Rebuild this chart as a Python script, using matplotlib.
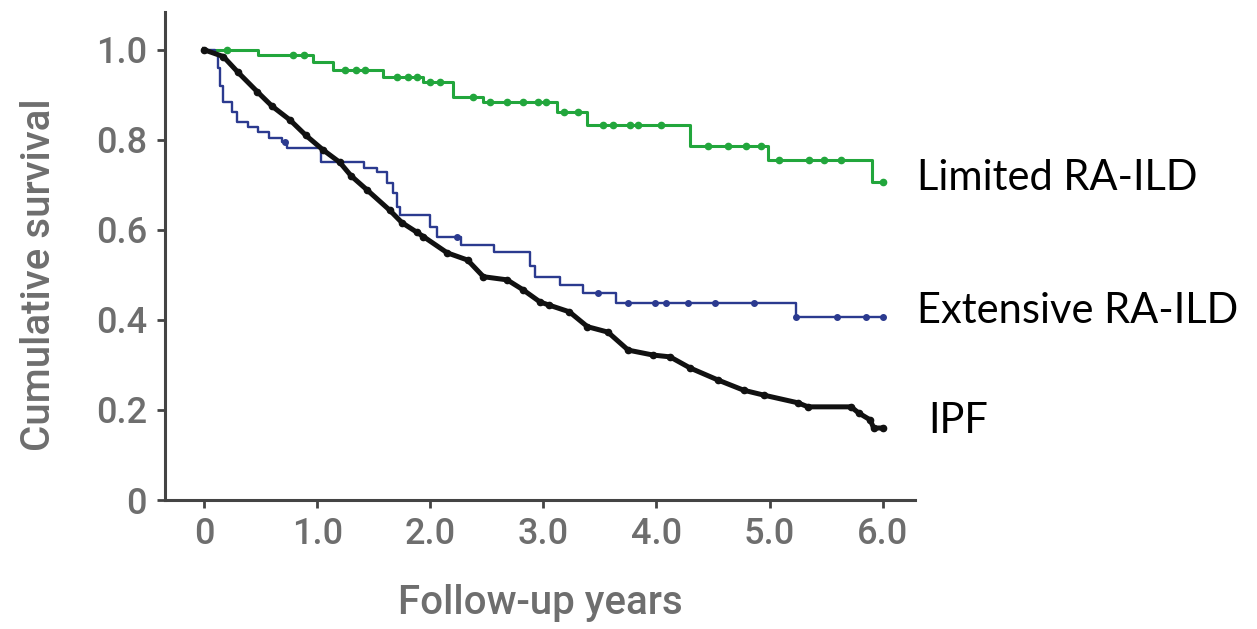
import numpy as np
import matplotlib
matplotlib.use("Agg")
import matplotlib.pyplot as plt

# ---------------- data ----------------
# Limited RA-ILD (green) Kaplan-Meier steps
green_x = [0, 0.48, 0.96, 1.14, 1.58, 1.94, 2.20, 2.47, 3.12, 3.39, 4.30, 4.99, 5.91, 6.0]
green_y = [1.0, 0.989, 0.973, 0.956, 0.94, 0.929, 0.896, 0.884, 0.862, 0.833, 0.787, 0.756, 0.707, 0.707]
green_cens = [0.20, 0.79, 0.88, 1.25, 1.34, 1.42, 1.71, 1.80, 1.88, 2.00, 2.09, 2.38, 2.53, 2.68,
              2.82, 2.95, 3.02, 3.18, 3.31, 3.53, 3.62, 3.77, 3.84, 4.04, 4.46, 4.63, 4.79, 4.92,
              5.08, 5.35, 5.48, 5.63, 6.0]

# Extensive RA-ILD (blue)
blue_x = [0, 0.10, 0.12, 0.14, 0.17, 0.25, 0.29, 0.39, 0.48, 0.57, 0.69, 0.73, 1.03, 1.41, 1.53,
          1.62, 1.67, 1.71, 1.73, 2.00, 2.06, 2.27, 2.56, 2.88, 2.93, 3.15, 3.35, 3.64, 5.23, 6.0]
blue_y = [1.0, 0.99, 0.96, 0.92, 0.885, 0.862, 0.84, 0.829, 0.818, 0.804, 0.796, 0.782, 0.751, 0.738,
          0.729, 0.704, 0.682, 0.651, 0.633, 0.607, 0.585, 0.567, 0.551, 0.52, 0.496, 0.478, 0.46,
          0.438, 0.407, 0.407]
blue_cens = [0.72, 2.24, 3.48, 3.75, 3.99, 4.08, 4.28, 4.52, 4.86, 5.23, 5.60, 5.85, 6.0]

# IPF (black)
ipf_x = [0.00, 0.17, 0.30, 0.47, 0.60, 0.76, 0.90, 1.05, 1.20, 1.30, 1.44, 1.64, 1.75, 1.88, 1.94,
         2.15, 2.33, 2.47, 2.68, 2.82, 2.97, 3.05, 3.23, 3.39, 3.57, 3.75, 3.97, 4.12, 4.30, 4.54,
         4.77, 4.95, 5.25, 5.34, 5.72, 5.79, 5.89, 5.92, 6.0]
ipf_y = [1.000, 0.985, 0.950, 0.907, 0.875, 0.844, 0.810, 0.778, 0.750, 0.720, 0.689, 0.644, 0.616,
         0.595, 0.585, 0.549, 0.533, 0.496, 0.489, 0.467, 0.440, 0.433, 0.418, 0.385, 0.373, 0.333,
         0.322, 0.318, 0.293, 0.267, 0.244, 0.233, 0.216, 0.207, 0.207, 0.193, 0.178, 0.160, 0.160]

x_ticks = [0, 1, 2, 3, 4, 5, 6]
x_ticklabels = ["0", "1.0", "2.0", "3.0", "4.0", "5.0", "6.0"]
y_ticks = [0, 0.2, 0.4, 0.6, 0.8, 1.0]
y_ticklabels = ["0", "0.2", "0.4", "0.6", "0.8", "1.0"]

labels = ["Limited RA-ILD", "Extensive RA-ILD", "IPF"]

GREEN = "#22a63c"
BLUE = "#2b3a8f"
BLACK = "#111111"
GRAY = "#6e6e6e"


def step_value(xs, ys, t):
    xs = np.asarray(xs)
    ys = np.asarray(ys)
    idx = np.searchsorted(xs, t, side="right") - 1
    return ys[np.clip(idx, 0, len(ys) - 1)]


fig = plt.figure(figsize=(12.57, 6.29), dpi=100)
ax = fig.add_axes([0.1313, 0.205, 0.597, 0.776])

# curves
ax.plot(green_x, green_y, drawstyle="steps-post", color=GREEN, lw=2.2, zorder=3)
ax.plot(green_cens, step_value(green_x, green_y, green_cens), "o", color=GREEN, ms=4.5, zorder=3)

ax.plot(blue_x, blue_y, drawstyle="steps-post", color=BLUE, lw=1.7, zorder=3)
ax.plot(blue_cens, step_value(blue_x, blue_y, blue_cens), "o", color=BLUE, ms=4, zorder=3)

ax.plot(ipf_x, ipf_y, color=BLACK, lw=3.6, zorder=4, marker="o", ms=4.5)

ax.set_xlim(-0.345, 6.29)
ax.set_ylim(0, 1.084)

ax.set_xticks(x_ticks)
ax.set_xticklabels(x_ticklabels)
ax.set_yticks(y_ticks)
ax.set_yticklabels(y_ticklabels)

for lab in ax.get_xticklabels() + ax.get_yticklabels():
    lab.set_fontfamily(["Roboto", "DejaVu Sans"])
    lab.set_fontsize(26)
    lab.set_color(GRAY)
    lab.set_fontweight("medium")

for s in ["top", "right"]:
    ax.spines[s].set_visible(False)
for s in ["left", "bottom"]:
    ax.spines[s].set_color("#444444")
    ax.spines[s].set_linewidth(2.2)

ax.tick_params(axis="both", direction="out", length=6, width=2, color="#444444")
ax.tick_params(axis="x", pad=6)
ax.tick_params(axis="y", pad=7)

ax.set_xlabel("Follow-up years", fontsize=29, color=GRAY, family=["Roboto", "DejaVu Sans"],
              fontweight="medium")
ax.set_ylabel("Cumulative survival", fontsize=29, color=GRAY, family=["Roboto", "DejaVu Sans"],
              fontweight="medium")
ax.xaxis.set_label_coords(0.5, -0.172)
ax.yaxis.set_label_coords(-0.142, 0.461)

# right-side annotations (figure pixel placement)
ann_font = ["Lato", "DejaVu Sans"]
fig.text(917 / 1257, 1 - 190 / 629, labels[0], fontsize=30, family=ann_font, color="black",
         ha="left", va="baseline")
fig.text(917 / 1257, 1 - 323 / 629, labels[1], fontsize=30, family=ann_font, color="black",
         ha="left", va="baseline")
fig.text(928 / 1257, 1 - 433 / 629, labels[2], fontsize=30, family=ann_font, color="black",
         ha="left", va="baseline")

fig.savefig("out.png", dpi=100)
